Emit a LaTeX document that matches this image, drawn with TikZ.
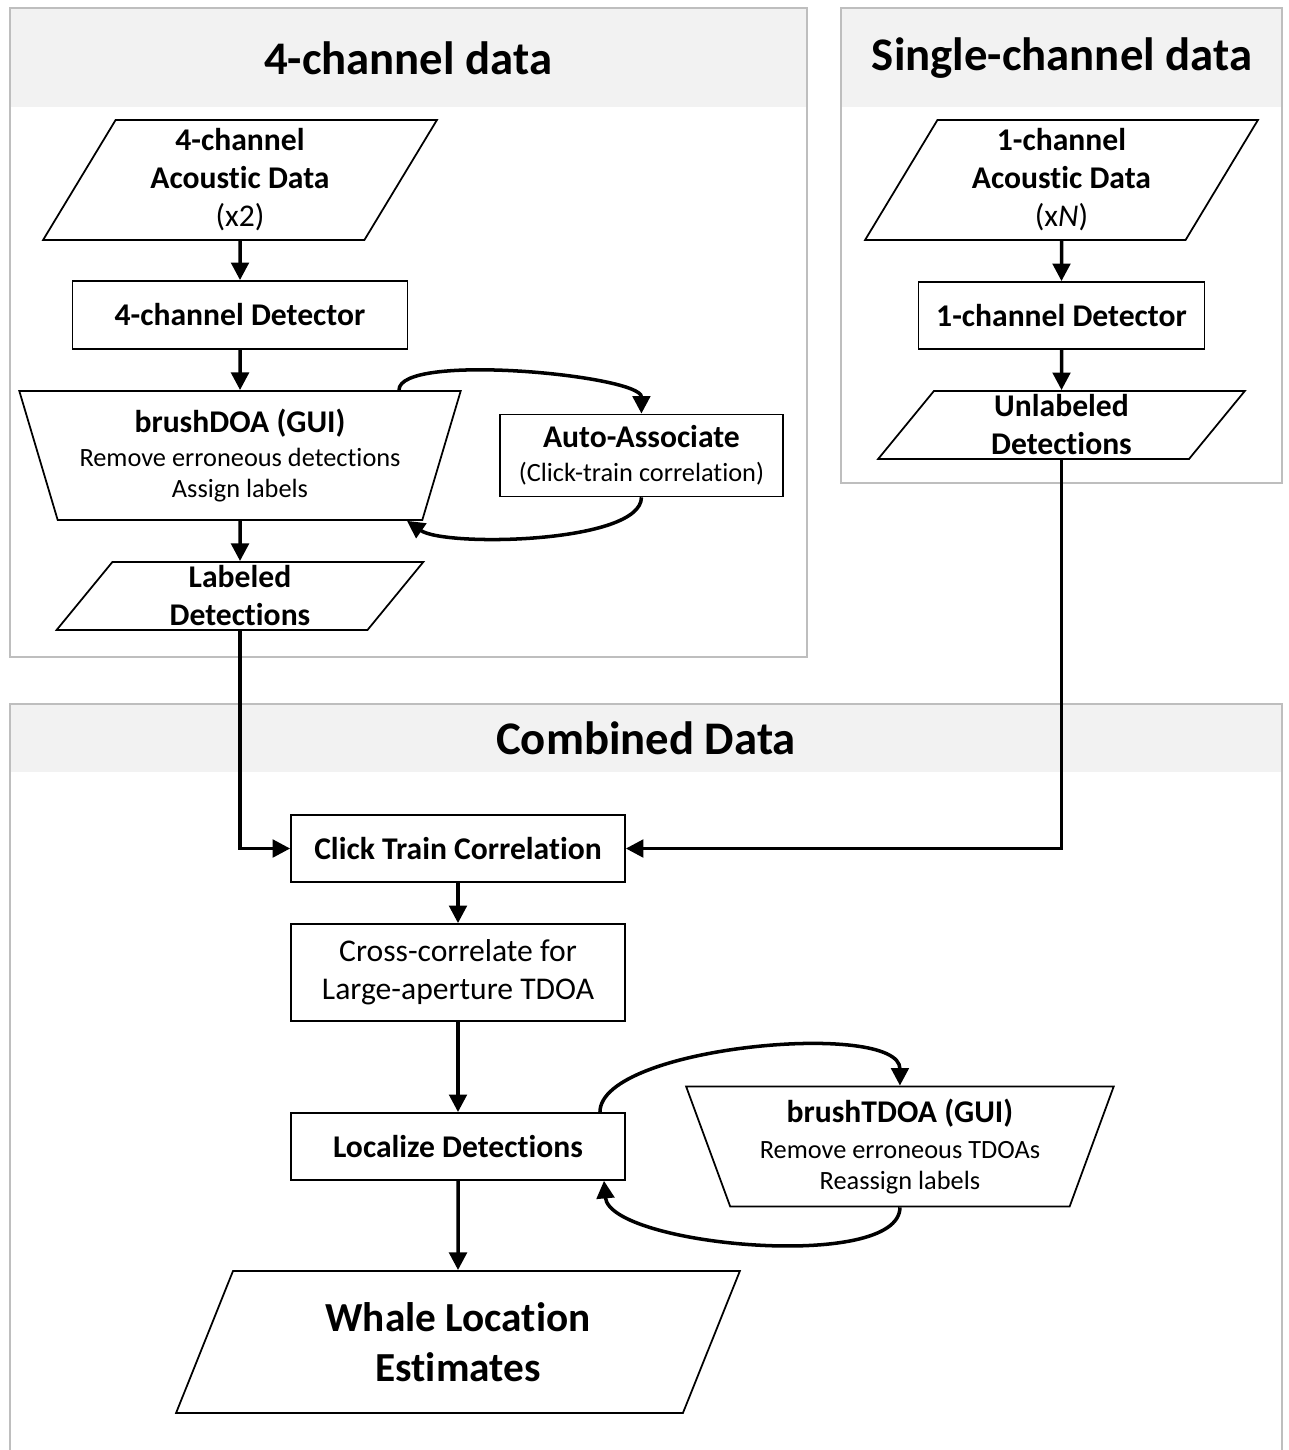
\documentclass[tikz,border=0pt]{standalone}
\usepackage{fontspec}
\setmainfont{Carlito}[Ligatures={NoCommon,NoContextual}]
\usetikzlibrary{arrows.meta, positioning, shapes.geometric}

\definecolor{framegray}{RGB}{190,190,190}
\definecolor{headgray}{RGB}{242,242,242}
% keep "t" and "i" apart (no ti ligature)
\newcommand{\tiNoLig}{t\kern0pt i}

\begin{document}
\begin{tikzpicture}[x=0.02cm,y=0.02cm,on grid,
    >={Triangle[length=10pt,width=10pt]}]
  \tikzstyle{frame}=[draw=framegray,line width=1.6pt]
  \tikzstyle{frameT}=[font=\fontsize{26.6}{32}\selectfont\bfseries]
  \tikzstyle{procB}=[rectangle,draw,line width=1pt,fill=white,align=center,inner sep=0pt,font=\fontsize{18}{21.6}\selectfont\bfseries]
  \tikzstyle{dataB}=[trapezium,trapezium left angle=63,trapezium right angle=117,trapezium stretches=true,draw,line width=1pt,fill=white,align=center,inner sep=0pt,font=\fontsize{18}{21.6}\selectfont\bfseries]
  \tikzstyle{guiB}=[trapezium,trapezium left angle=110,trapezium right angle=110,trapezium stretches=true,draw,line width=1pt,fill=white,align=center,inner sep=0pt,font=\fontsize{18}{21.6}\selectfont\bfseries]
  \tikzstyle{link}=[->,line width=2pt]

  \useasboundingbox (0,0) rectangle (1288,-1450);

  % group frames
  \fill[headgray] (10,-8) rectangle (807,-107);
  \draw[frame] (10,-8) rectangle (807,-657);
  \fill[headgray] (841,-8) rectangle (1282,-107);
  \draw[frame] (841,-8) rectangle (1282,-483);
  \fill[headgray] (10,-704) rectangle (1282,-772);
  \draw[frame] (10,-1470) |- (1282,-704) -- (1282,-1470);

  \node[frameT] (title4) at (408,-58) {4-channel data};
  \node[frameT] (title1) at (1062,-58) {Single-channel data};
  \node[frameT] (titleC) at (646,-738) {Combined Data};

  % 4-channel branch
  \node[dataB,minimum width=7.88cm,minimum height=2.4cm] (in4) at (240,-180)
      {4-channel\\Acous\tiNoLig c Data\\{\mdseries (x2)}};
  \node[procB,minimum width=6.7cm,minimum height=1.36cm] (det4) [below=2.7cm of in4] {4-channel Detector};
  \node[guiB,minimum width=8.84cm,minimum height=2.58cm] (brush) [below=2.81cm of det4]
      {brushDOA (GUI)\\[-2.3pt]{\fontsize{15}{17.6}\selectfont\mdseries Remove erroneous detec\tiNoLig ons}\\[-4pt]{\fontsize{15}{17.6}\selectfont\mdseries Assign labels}};
  \node[procB,minimum width=5.66cm,minimum height=1.64cm] (auto) [right=8.03cm of brush]
      {Auto-Associate\\[-2.3pt]{\fontsize{15}{17.6}\selectfont\mdseries (Click-train correla\tiNoLig on)}};
  \node[dataB,minimum width=7.34cm,minimum height=1.36cm] (lab4) [below=2.81cm of brush] {Labeled\\Detec\tiNoLig ons};

  % single-channel branch
  \node[dataB,minimum width=7.86cm,minimum height=2.4cm] (in1) at (1061.5,-180)
      {1-channel\\Acous\tiNoLig c Data\\{\mdseries (x\textit{N})}};
  \node[procB,minimum width=5.72cm,minimum height=1.34cm] (det1) [below=2.71cm of in1] {1-channel Detector};
  \node[dataB,minimum width=7.34cm,minimum height=1.36cm] (unlab) [below=2.19cm of det1] {Unlabeled\\Detec\tiNoLig ons};

  % combined
  \node[procB,minimum width=6.68cm,minimum height=1.34cm] (ctc) at (458,-848.5) {Click Train Correla\tiNoLig on};
  \node[procB,minimum width=6.68cm,minimum height=1.94cm,font=\fontsize{18}{21.6}\selectfont] (xcorr) [below=2.48cm of ctc]
      {Cross-correlate for\\Large-aperture TDOA};
  \node[procB,minimum width=6.68cm,minimum height=1.34cm] (loc) [below=3.48cm of xcorr] {Localize Detec\tiNoLig ons};
  \node[guiB,minimum width=8.56cm,minimum height=2.4cm,trapezium left angle=111,trapezium right angle=111] (btdoa) [right=8.84cm of loc]
      {brushTDOA (GUI)\\[-1.2pt]{\fontsize{15}{17.6}\selectfont\mdseries Remove erroneous TDOAs}\\[-4pt]{\fontsize{15}{17.6}\selectfont\mdseries Reassign labels}};
  \node[dataB,minimum width=11.3cm,minimum height=2.84cm,trapezium left angle=67,trapezium right angle=113,font=\fontsize{23.5}{28.3}\selectfont\bfseries] (whale) [below=3.91cm of loc]
      {Whale Location\\Estimates};

  \path[link] (in4) edge (det4);
  \path[link] (det4) edge (brush);
  \path[link] (brush) edge (lab4);
  \draw[link] ([xshift=3.18cm]brush.north) to[out=90,in=90,looseness=0.4] (auto.north);
  \draw[link] (auto.south) to[out=-90,in=-35,looseness=0.5] ([xshift=3.34cm]brush.south);

  \path[link] (in1) edge (det1);
  \path[link] (det1) edge (unlab);

  \draw[link] (lab4) |- (ctc);
  \draw[link] (unlab) |- (ctc);
  \path[link] (ctc) edge (xcorr);
  \path[link] (xcorr) edge (loc);
  \path[link] (loc) edge (whale);
  \draw[link] ([xshift=2.84cm]loc.north) to[out=90,in=90,looseness=0.56] (btdoa.north);
  \draw[link] (btdoa.south) to[out=-90,in=-85,looseness=0.56] ([xshift=2.92cm]loc.south);
\end{tikzpicture}
\end{document}
